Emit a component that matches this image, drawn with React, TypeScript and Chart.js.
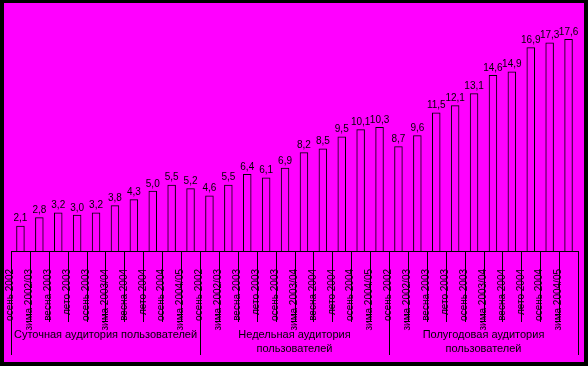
import React, { useEffect, useRef } from "react";
import { Chart, registerables } from "chart.js";

Chart.register(...registerables);

const seasons = [
  "осень 2002",
  "зима 2002/03",
  "весна 2003",
  "лето 2003",
  "осень 2003",
  "зима 2003/04",
  "весна 2004",
  "лето 2004",
  "осень 2004",
  "зима 2004/05",
];

const groupLabels: string[][] = [
  ["Суточная аудитория пользователей"],
  ["Недельная аудитория", "пользователей"],
  ["Полугодовая аудитория", "пользователей"],
];

const dailyValues = [2.1, 2.8, 3.2, 3.0, 3.2, 3.8, 4.3, 5.0, 5.5, 5.2];
const weeklyValues = [4.6, 5.5, 6.4, 6.1, 6.9, 8.2, 8.5, 9.5, 10.1, 10.3];
const halfYearValues = [8.7, 9.6, 11.5, 12.1, 13.1, 14.6, 14.9, 16.9, 17.3, 17.6];

const FONT = "'Liberation Sans', Arial, sans-serif";

export default function App() {
  const ref = useRef<HTMLCanvasElement | null>(null);

  useEffect(() => {
    if (!ref.current) return;
    const labels = [...seasons, ...seasons, ...seasons];
    const values = [...dailyValues, ...weeklyValues, ...halfYearValues];
    const groupSize = seasons.length;

    const bgPlugin = {
      id: "bg",
      beforeDraw(chart: any) {
        const ctx = chart.ctx;
        ctx.save();
        ctx.fillStyle = "#000000";
        ctx.fillRect(0, 0, chart.width, chart.height);
        ctx.fillStyle = "#FF00FF";
        ctx.fillRect(4, 3, chart.width - 8, chart.height - 7);
        ctx.restore();
      },
    };

    const decoPlugin = {
      id: "deco",
      afterDatasetsDraw(chart: any) {
        const ctx = chart.ctx;
        const meta = chart.getDatasetMeta(0);
        ctx.save();
        ctx.fillStyle = "#000000";
        ctx.font = `10px ${FONT}`;
        ctx.textAlign = "center";
        ctx.textBaseline = "bottom";
        meta.data.forEach((bar: any, i: number) => {
          const txt = values[i].toFixed(1).replace(".", ",");
          ctx.fillText(txt, bar.x, bar.y - 2);
        });

        const xs = chart.scales.x;
        const axisY = chart.chartArea.bottom;
        const n = labels.length;
        const step = xs.getPixelForValue(1) - xs.getPixelForValue(0);
        ctx.strokeStyle = "#000000";
        ctx.lineWidth = 1;
        for (let b = 0; b <= n; b++) {
          const x = Math.round(xs.getPixelForValue(b) - step / 2) + 0.5;
          const isGroup = b % groupSize === 0;
          ctx.beginPath();
          ctx.moveTo(x, axisY);
          ctx.lineTo(x, isGroup ? 355 : 322);
          ctx.stroke();
        }

        ctx.font = `11px ${FONT}`;
        ctx.textBaseline = "middle";
        groupLabels.forEach((lines, g) => {
          const x0 = xs.getPixelForValue(g * groupSize) - step / 2;
          const x1 = xs.getPixelForValue((g + 1) * groupSize - 1) + step / 2;
          const cx = (x0 + x1) / 2;
          lines.forEach((ln, k) => {
            ctx.fillText(ln, cx, 335 + k * 14);
          });
        });
        ctx.restore();
      },
    };

    const chart = new Chart(ref.current, {
      type: "bar",
      data: {
        labels,
        datasets: [
          {
            data: values,
            backgroundColor: "rgba(0,0,0,0)",
            borderColor: "#000000",
            borderWidth: 1,
            categoryPercentage: 1,
            barPercentage: 0.45,
          },
        ],
      },
      options: {
        responsive: false,
        animation: false,
        layout: { padding: { left: 11, right: 10, top: 10, bottom: 0 } },
        plugins: {
          legend: { display: false },
          tooltip: { enabled: false },
        },
        scales: {
          x: {
            grid: { display: false, drawTicks: false },
            border: { display: true, color: "#000000", width: 1 },
            ticks: {
              color: "#000000",
              font: { size: 10, family: FONT },
              minRotation: 90,
              maxRotation: 90,
              autoSkip: false,
              padding: 18,
              labelOffset: -10,
            },
            afterFit(scale: any) {
              scale.height = 115;
              scale.paddingLeft = 0;
              scale.paddingRight = 0;
            },
          },
          y: {
            display: false,
            min: 0,
            max: 20,
          },
        },
      },
      plugins: [bgPlugin, decoPlugin],
    });

    return () => chart.destroy();
  }, []);

  return (
    <div style={{ position: "absolute", left: 0, top: 0, width: 588, height: 366 }}>
      <canvas ref={ref} width={588} height={366} style={{ display: "block" }} />
    </div>
  );
}
